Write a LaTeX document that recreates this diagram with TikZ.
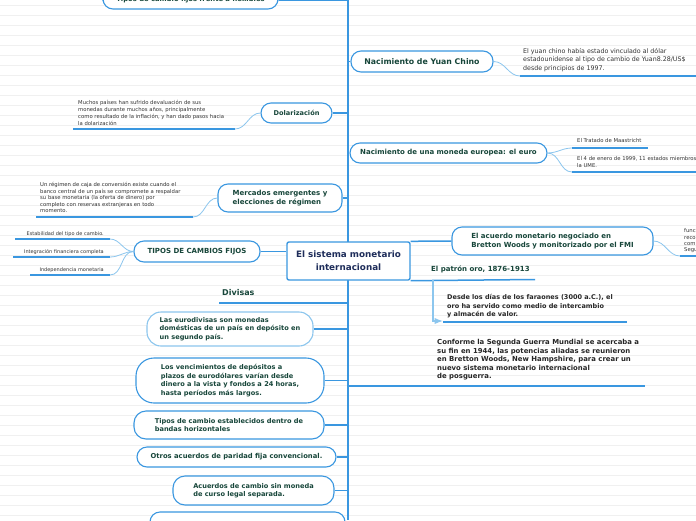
\documentclass[tikz,border=0pt]{standalone}
\usepackage{fontspec}
\setmainfont{DejaVu Sans}
\usetikzlibrary{arrows.meta,positioning}
\definecolor{mapblue}{HTML}{3A97E0}
\definecolor{paleblue}{HTML}{8CC6EE}
\definecolor{topicgreen}{HTML}{17463A}
\definecolor{rootnavy}{HTML}{1E2D5A}
\definecolor{notegray}{HTML}{333333}
\definecolor{ruled}{HTML}{F0F0F0}

\begin{document}
\begin{tikzpicture}[x=1pt,y=-1pt,>=Latex]
  \tikzstyle{topic}=[draw=mapblue,line width=1.1pt,rounded corners=10pt,fill=white,align=left,text=topicgreen,font=\bfseries\fontsize{6.6}{8.6}\selectfont,inner sep=0pt]
  \tikzstyle{rootbox}=[draw=mapblue,line width=1.4pt,rounded corners=2pt,fill=white,align=center,text=rootnavy,font=\bfseries\fontsize{8.8}{12.8}\selectfont,inner sep=0pt]
  \tikzstyle{note}=[align=left,text=notegray,font=\fontsize{5.3}{7}\selectfont,inner sep=0pt]
  \tikzstyle{boldnote}=[align=left,text=black!85,font=\bfseries\fontsize{6.5}{8.5}\selectfont,inner sep=0pt]
  \tikzstyle{trunk}=[mapblue,line width=2pt]
  \tikzstyle{branch}=[mapblue,line width=1.5pt]
  \tikzstyle{twig}=[paleblue,line width=0.8pt]
  \tikzstyle{uline}=[mapblue,line width=1.8pt]
  \clip (0,0) rectangle (696,520);
  \fill[white] (0,0) rectangle (696,520);
  % ruled paper
  \foreach \y in {5,15,...,515}
    \draw[ruled,line width=0.5pt] (0,\y) -- (696,\y);

  \coordinate (trunktop) at (348,0);
  \coordinate (trunkbot) at (348,520);
  \draw[trunk] (trunktop) -- (trunkbot);

  % central topic
  \node[rootbox,minimum width=123pt,minimum height=38pt] (root) at (348.5,261) {El sistema monetario\\internacional};

  % upper left
  \node[topic,font=\bfseries\fontsize{6.8}{8.6}\selectfont,minimum width=175pt,minimum height=18pt] (flex) at (190.5,0) {Tipos de cambio fijos frente a flexibles};
  \node[topic,minimum width=71pt,minimum height=20pt] (dolar) at (296.5,113) {Dolarización};
  \node[topic,font=\bfseries\fontsize{7}{9}\selectfont,minimum width=124pt,minimum height=28pt] (merc) at (280,198) {Mercados emergentes y\\elecciones de régimen};
  \node[topic,font=\bfseries\fontsize{7}{9}\selectfont,minimum width=126pt,minimum height=21pt] (fijos) at (197,251.5) {TIPOS DE CAMBIOS FIJOS};

  \draw[branch] (flex.east) -- (flex.east -| trunktop);
  \draw[branch] (dolar.east) -- (dolar.east -| trunktop);
  \draw[branch] (merc.east) -- (merc.east -| trunktop);
  \draw[branch] (fijos.east) -- (fijos.east -| root.west);

  \node[note,anchor=north west] (dolarnote) at (78,100) {Muchos países han sufrido devaluación de sus\\monedas durante muchos años, principalmente\\como resultado de la inflación, y han dado pasos hacia\\la dolarización};
  \coordinate (dolarul1) at (235,129);
  \coordinate (dolarul2) at (73,129);
  \draw[twig] (dolar.west) to[out=180,in=0] (dolarul1);
  \draw[uline] (dolarul1) -- (dolarul2);

  \node[note,font=\fontsize{5.3}{6.6}\selectfont,anchor=north west] (mercnote) at (40,182) {Un régimen de caja de conversión existe cuando el\\banco central de un país se compromete a respaldar\\su base monetaria (la oferta de dinero) por\\completo con reservas extranjeras en todo\\momento.};
  \coordinate (mercul1) at (193,217);
  \coordinate (mercul2) at (36,217);
  \draw[twig] (merc.west) to[out=180,in=0] (mercul1);
  \draw[uline] (mercul1) -- (mercul2);

  \node[note,font=\fontsize{5}{7}\selectfont,anchor=base east] (estab) at (104,235.5) {Estabilidad del tipo de cambio.};
  \node[note,font=\fontsize{5}{7}\selectfont,anchor=base east] (integ) at (104,253.5) {Integración financiera completa};
  \node[note,font=\fontsize{5}{7}\selectfont,anchor=base east] (indep) at (104,271.5) {Independencia monetaria};
  \coordinate (estabul) at (110,239);
  \coordinate (integul) at (110,257);
  \coordinate (indepul) at (110,275);
  \foreach \c/\x in {estabul/15,integul/13,indepul/30}{
    \draw[twig] (fijos.west) to[out=180,in=0] (\c);
    \draw[uline] (\c) -- (\c -| \x,0);
  }

  % upper right
  \node[topic,font=\bfseries\fontsize{7.8}{9}\selectfont,minimum width=142pt,minimum height=21pt] (yuan) at (422,61.5) {Nacimiento de Yuan Chino};
  \node[topic,font=\bfseries\fontsize{7}{9}\selectfont,minimum width=197pt,minimum height=20pt] (euro) at (448.5,153) {Nacimiento de una moneda europea: el euro};
  \node[topic,font=\bfseries\fontsize{7}{8.6}\selectfont,minimum width=201pt,minimum height=28pt] (bretton) at (552.5,241) {El acuerdo monetario negociado en\\Bretton Woods y monitorizado por el FMI};

  \draw[branch] (yuan.west -| trunktop) -- (yuan.west);
  \draw[branch] (euro.west -| trunktop) -- (euro.west);
  \draw[branch] (root.north east) -- (bretton.west);

  \node[note,font=\fontsize{6.3}{8.5}\selectfont,anchor=north west] (yuannote) at (523,48) {El yuan chino había estado vinculado al dólar\\estadounidense al tipo de cambio de Yuan8.28/US\$\\desde principios de 1997.};
  \coordinate (yuanul1) at (520,76);
  \coordinate (yuanul2) at (696,76);
  \draw[twig] (yuan.east) to[out=0,in=180] (yuanul1);
  \draw[uline] (yuanul1) -- (yuanul2);

  \node[note,anchor=north west] (maas) at (577,138.5) {El Tratado de Maastricht};
  \node[note,anchor=north west] (ume) at (577,156.5) {El 4 de enero de 1999, 11 estados miembros\\la UME.};
  \coordinate (maasul1) at (572,148);
  \coordinate (maasul2) at (648,148);
  \coordinate (umeul1) at (572,172);
  \coordinate (umeul2) at (696,172);
  \draw[twig] (euro.east) to[out=0,in=180] (maasul1);
  \draw[twig] (euro.east) to[out=0,in=180] (umeul1);
  \draw[uline] (maasul1) -- (maasul2);
  \draw[uline] (umeul1) -- (umeul2);

  \node[note,font=\fontsize{5.3}{6.4}\selectfont,anchor=north west] (brettonnote) at (684,228.5) {func\\reco\\com\\Segu};
  \coordinate (brettonul1) at (680,256);
  \coordinate (brettonul2) at (696,256);
  \draw[twig] (bretton.east) to[out=0,in=180] (brettonul1);
  \draw[uline] (brettonul1) -- (brettonul2);

  % lower right
  \node[boldnote,text=topicgreen,font=\bfseries\fontsize{7}{8.5}\selectfont,anchor=base west] (oro) at (431,271.5) {El patrón oro, 1876-1913};
  \coordinate (oroul) at (535,279.5);
  \draw[uline,line width=1.5pt] (root.south east) -- (oroul);

  \node[boldnote,anchor=north west] (desde) at (447,294.5) {Desde los días de los faraones (3000 a.C.), el\\oro ha servido como medio de intercambio\\y almacén de valor.};
  \coordinate (desdetop) at (433,279.5);
  \coordinate (desdecorner) at (433,321);
  \coordinate (desdeul1) at (443,322);
  \coordinate (desdeul2) at (627,322);
  \draw[paleblue,line width=1.2pt,->] (desdetop) -- (desdecorner) -- (desdeul1 |- desdecorner);
  \draw[uline,line width=1.5pt] (desdeul1) -- (desdeul2);

  \node[boldnote,font=\bfseries\fontsize{6.9}{8.5}\selectfont,anchor=north west] (conforme) at (437,339.5) {Conforme la Segunda Guerra Mundial se acercaba a\\su fin en 1944, las potencias aliadas se reunieron\\en Bretton Woods, New Hampshire, para crear un\\nuevo sistema monetario internacional\\de posguerra.};
  \coordinate (conformeul) at (645,386);
  \draw[uline,line width=1.5pt] (conformeul -| trunktop) -- (conformeul);

  % lower left
  \node[boldnote,text=topicgreen,font=\bfseries\fontsize{8}{9}\selectfont,anchor=base west] (divisas) at (222,295) {Divisas};
  \coordinate (divisasul) at (219,303);
  \draw[uline,line width=1.5pt] (divisasul) -- (divisasul -| trunktop);

  \node[topic,draw=paleblue,minimum width=166pt,minimum height=34pt,rounded corners=14pt] (eurodiv) at (230,329) {Las eurodivisas son monedas\\domésticas de un país en depósito en\\un segundo país.};
  \node[topic,minimum width=188pt,minimum height=45pt,rounded corners=18pt] (venc) at (230,380.5) {Los vencimientos de depósitos a\\plazos de eurodólares varían desde\\dinero a la vista y fondos a 24 horas,\\hasta períodos más largos.};
  \node[topic,minimum width=190pt,minimum height=28pt,rounded corners=12pt] (bandas) at (229,425) {Tipos de cambio establecidos dentro de\\bandas horizontales};
  \node[topic,font=\bfseries\fontsize{6.8}{8.6}\selectfont,minimum width=199pt,minimum height=20pt] (otros) at (236.5,457) {Otros acuerdos de paridad fija convencional.};
  \node[topic,minimum width=161pt,minimum height=29pt,rounded corners=12pt] (curso) at (253.5,490.5) {Acuerdos de cambio sin moneda\\de curso legal separada.};
  \node[topic,minimum width=195pt,minimum height=24pt] (ultimo) at (247.5,524) {};

  \foreach \n in {eurodiv,venc,bandas,otros,curso,ultimo}
    \draw[branch] (\n.east) -- (\n.east -| trunktop);
\end{tikzpicture}
\end{document}
